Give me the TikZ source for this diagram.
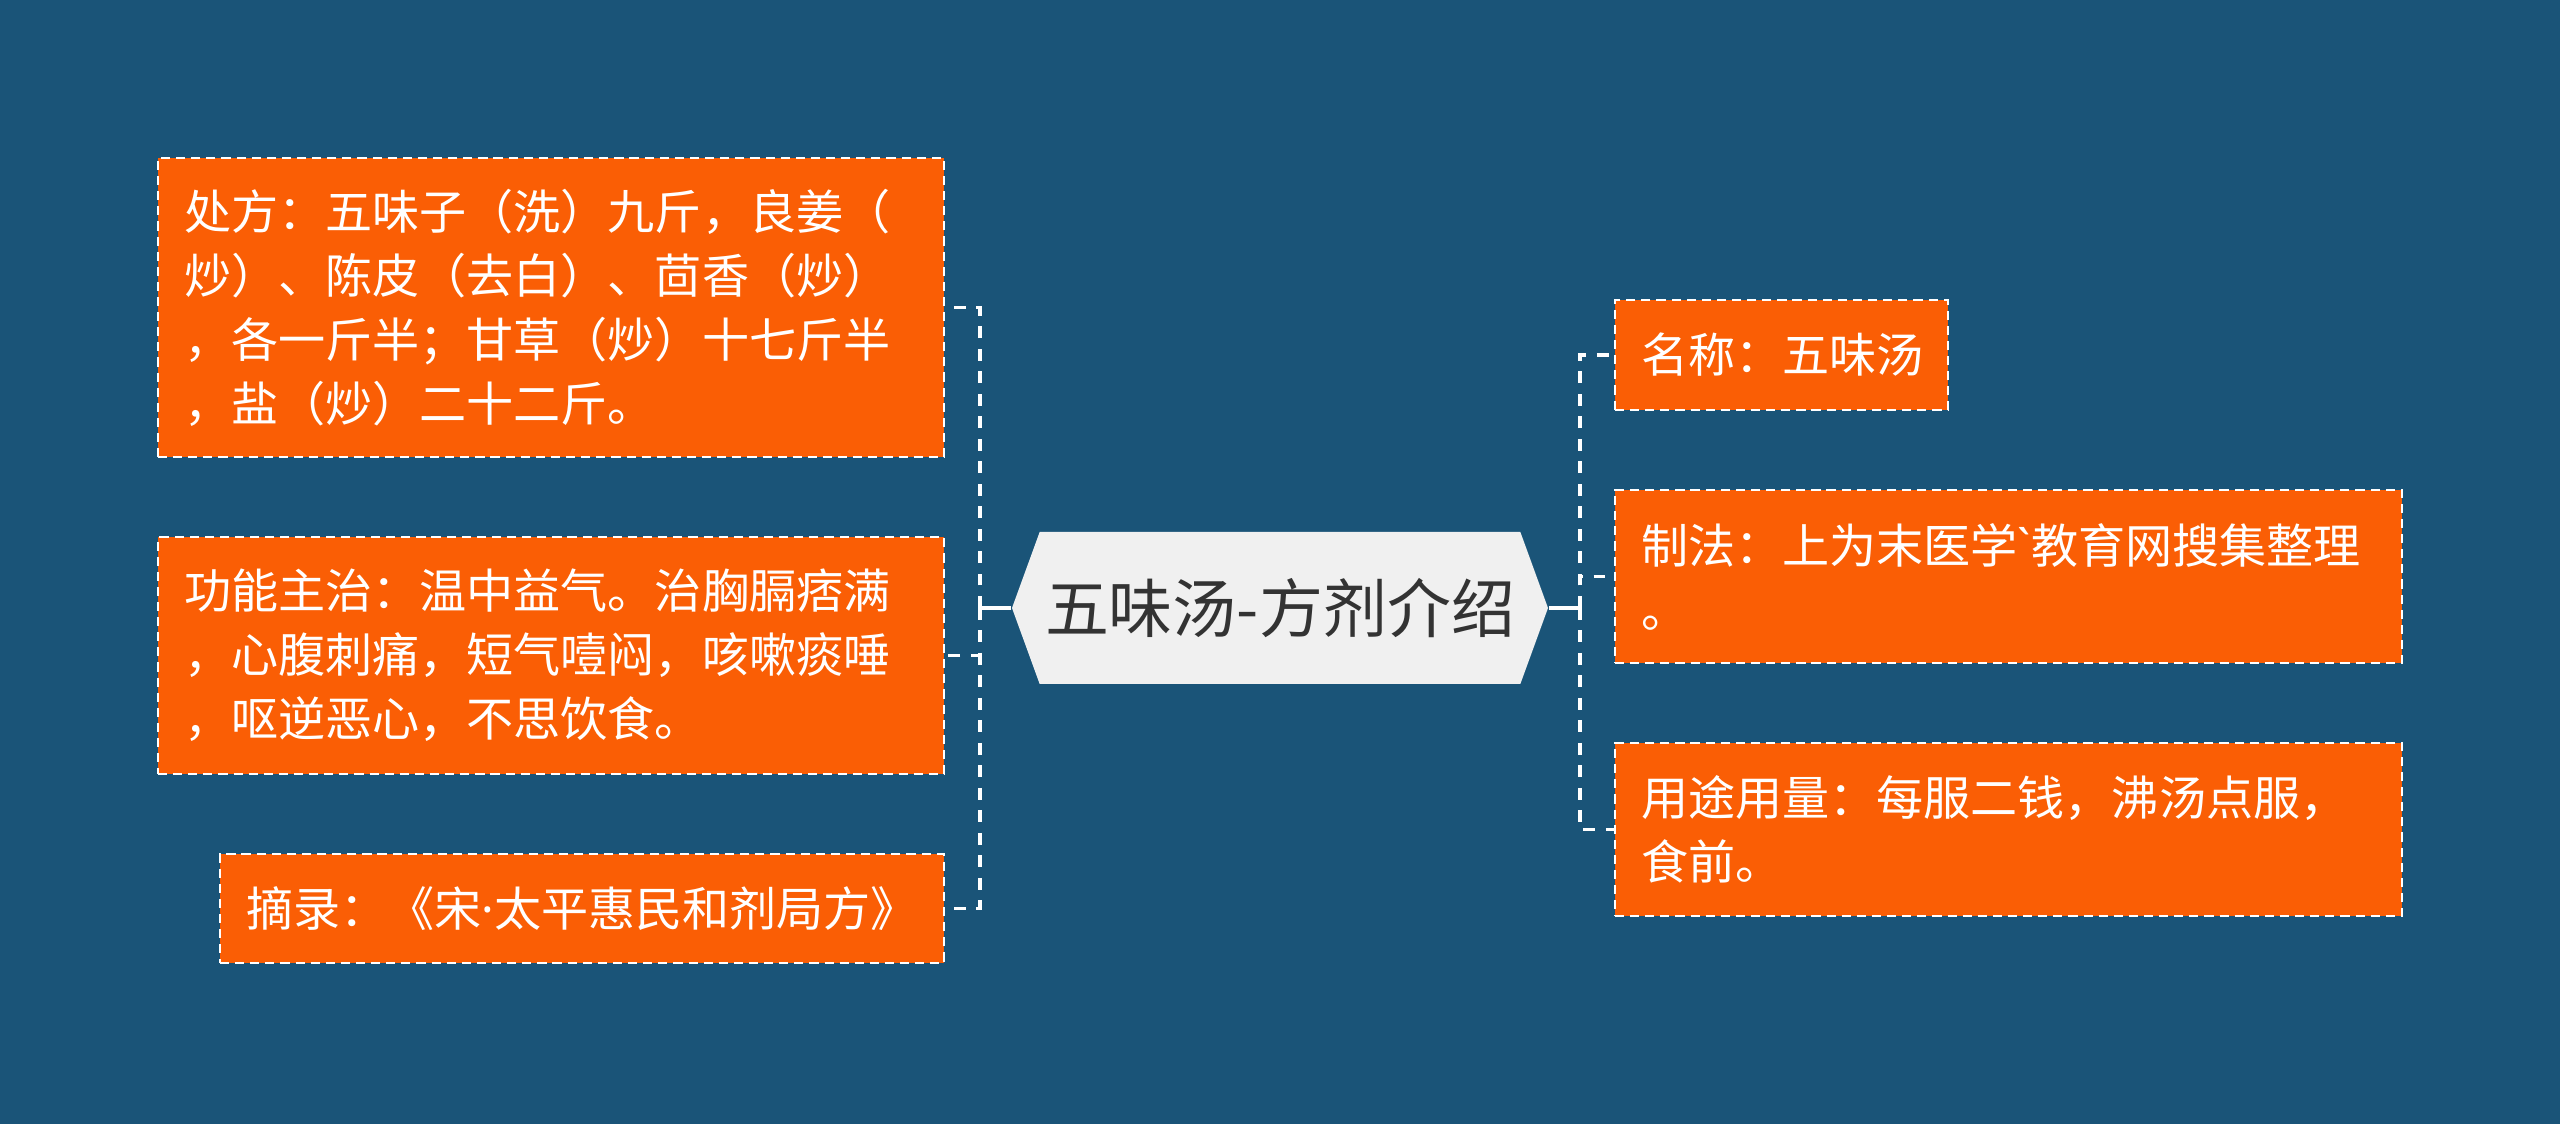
\documentclass[tikz,border=0pt]{standalone}
\usepackage{fontspec}
\usepackage{tikz}
\usetikzlibrary{shapes.symbols}
\newfontfamily\cjkfont{Noto Sans CJK SC}
\newfontfamily\latinfont{Noto Sans}
\definecolor{mapblue}{RGB}{26,84,120}
\definecolor{maporange}{RGB}{250,94,5}
\definecolor{hubgray}{RGB}{240,240,240}
\definecolor{hubtext}{RGB}{51,51,51}
\tikzset{
  leaf/.style={draw=white,line width=0.6pt,dash pattern=on 2.6pt off 1.7pt,fill=maporange,text=white,inner xsep=0.26cm,inner ysep=0pt,align=left,font=\cjkfont\fontsize{13.4}{18.2}\selectfont},
  hub/.style={shape=signal,signal to=west and east,signal pointer angle=140,fill=hubgray,text=hubtext,font=\cjkfont\fontsize{18.2}{22}\selectfont,minimum width=5.36cm,minimum height=1.52cm,inner sep=0pt},
  link/.style={draw=white,line width=1pt},
  dashlink/.style={link,dash pattern=on 3.4pt off 3pt}
}
\begin{document}
\begin{tikzpicture}
% Background
\fill[mapblue] (0,0) rectangle (25.6,-11.24);
\useasboundingbox (0,0) rectangle (25.6,-11.24);

% Central topic
\node[hub] (hub) at (12.80,-6.08) {五味汤-方剂介绍};

% Left branches
\node[leaf,text width=7.34cm,minimum height=2.99cm] (recipe) at (5.51,-3.075) {处方：五味子（洗）九斤，良姜（\\炒）、陈皮（去白）、茴香（炒）\\，各一斤半；甘草（炒）十七斤半\\，盐（炒）二十二斤。};
\node[leaf,text width=7.34cm,minimum height=2.37cm] (effect) at (5.51,-6.555) {功能主治：温中益气。治胸膈痞满\\，心腹刺痛，短气噎闷，咳嗽痰唾\\，呕逆恶心，不思饮食。};
\node[leaf,text width=6.72cm,minimum height=1.09cm] (source) at (5.82,-9.085) {摘录：《宋{\latinfont ·}太平惠民和剂局方》};

% Right branches
\node[leaf,text width=2.81cm,minimum height=1.10cm] (name) at (17.815,-3.55) {名称：五味汤};
\node[leaf,text width=7.35cm,minimum height=1.73cm] (method) at (20.085,-5.765) {制法：上为末医学{\latinfont `}教育网搜集整理\\。};
\node[leaf,text width=7.35cm,minimum height=1.73cm] (usage) at (20.085,-8.295) {用途用量：每服二钱，沸汤点服，\\食前。};

% Connection lines
\coordinate (ltrunk) at (9.80,-6.08);
\coordinate (rtrunk) at (15.80,-6.08);
\draw[link] (hub.west) -- (ltrunk);
\draw[link] (hub.east) -- (rtrunk);
\draw[dashlink] (ltrunk) |- (recipe.east);
\draw[dashlink] (ltrunk) |- (effect.east);
\draw[dashlink] (ltrunk) |- (source.east);
\draw[dashlink] (rtrunk) |- (name.west);
\draw[dashlink] (rtrunk) |- (method.west);
\draw[dashlink] (rtrunk) |- (usage.west);
\end{tikzpicture}
\end{document}
